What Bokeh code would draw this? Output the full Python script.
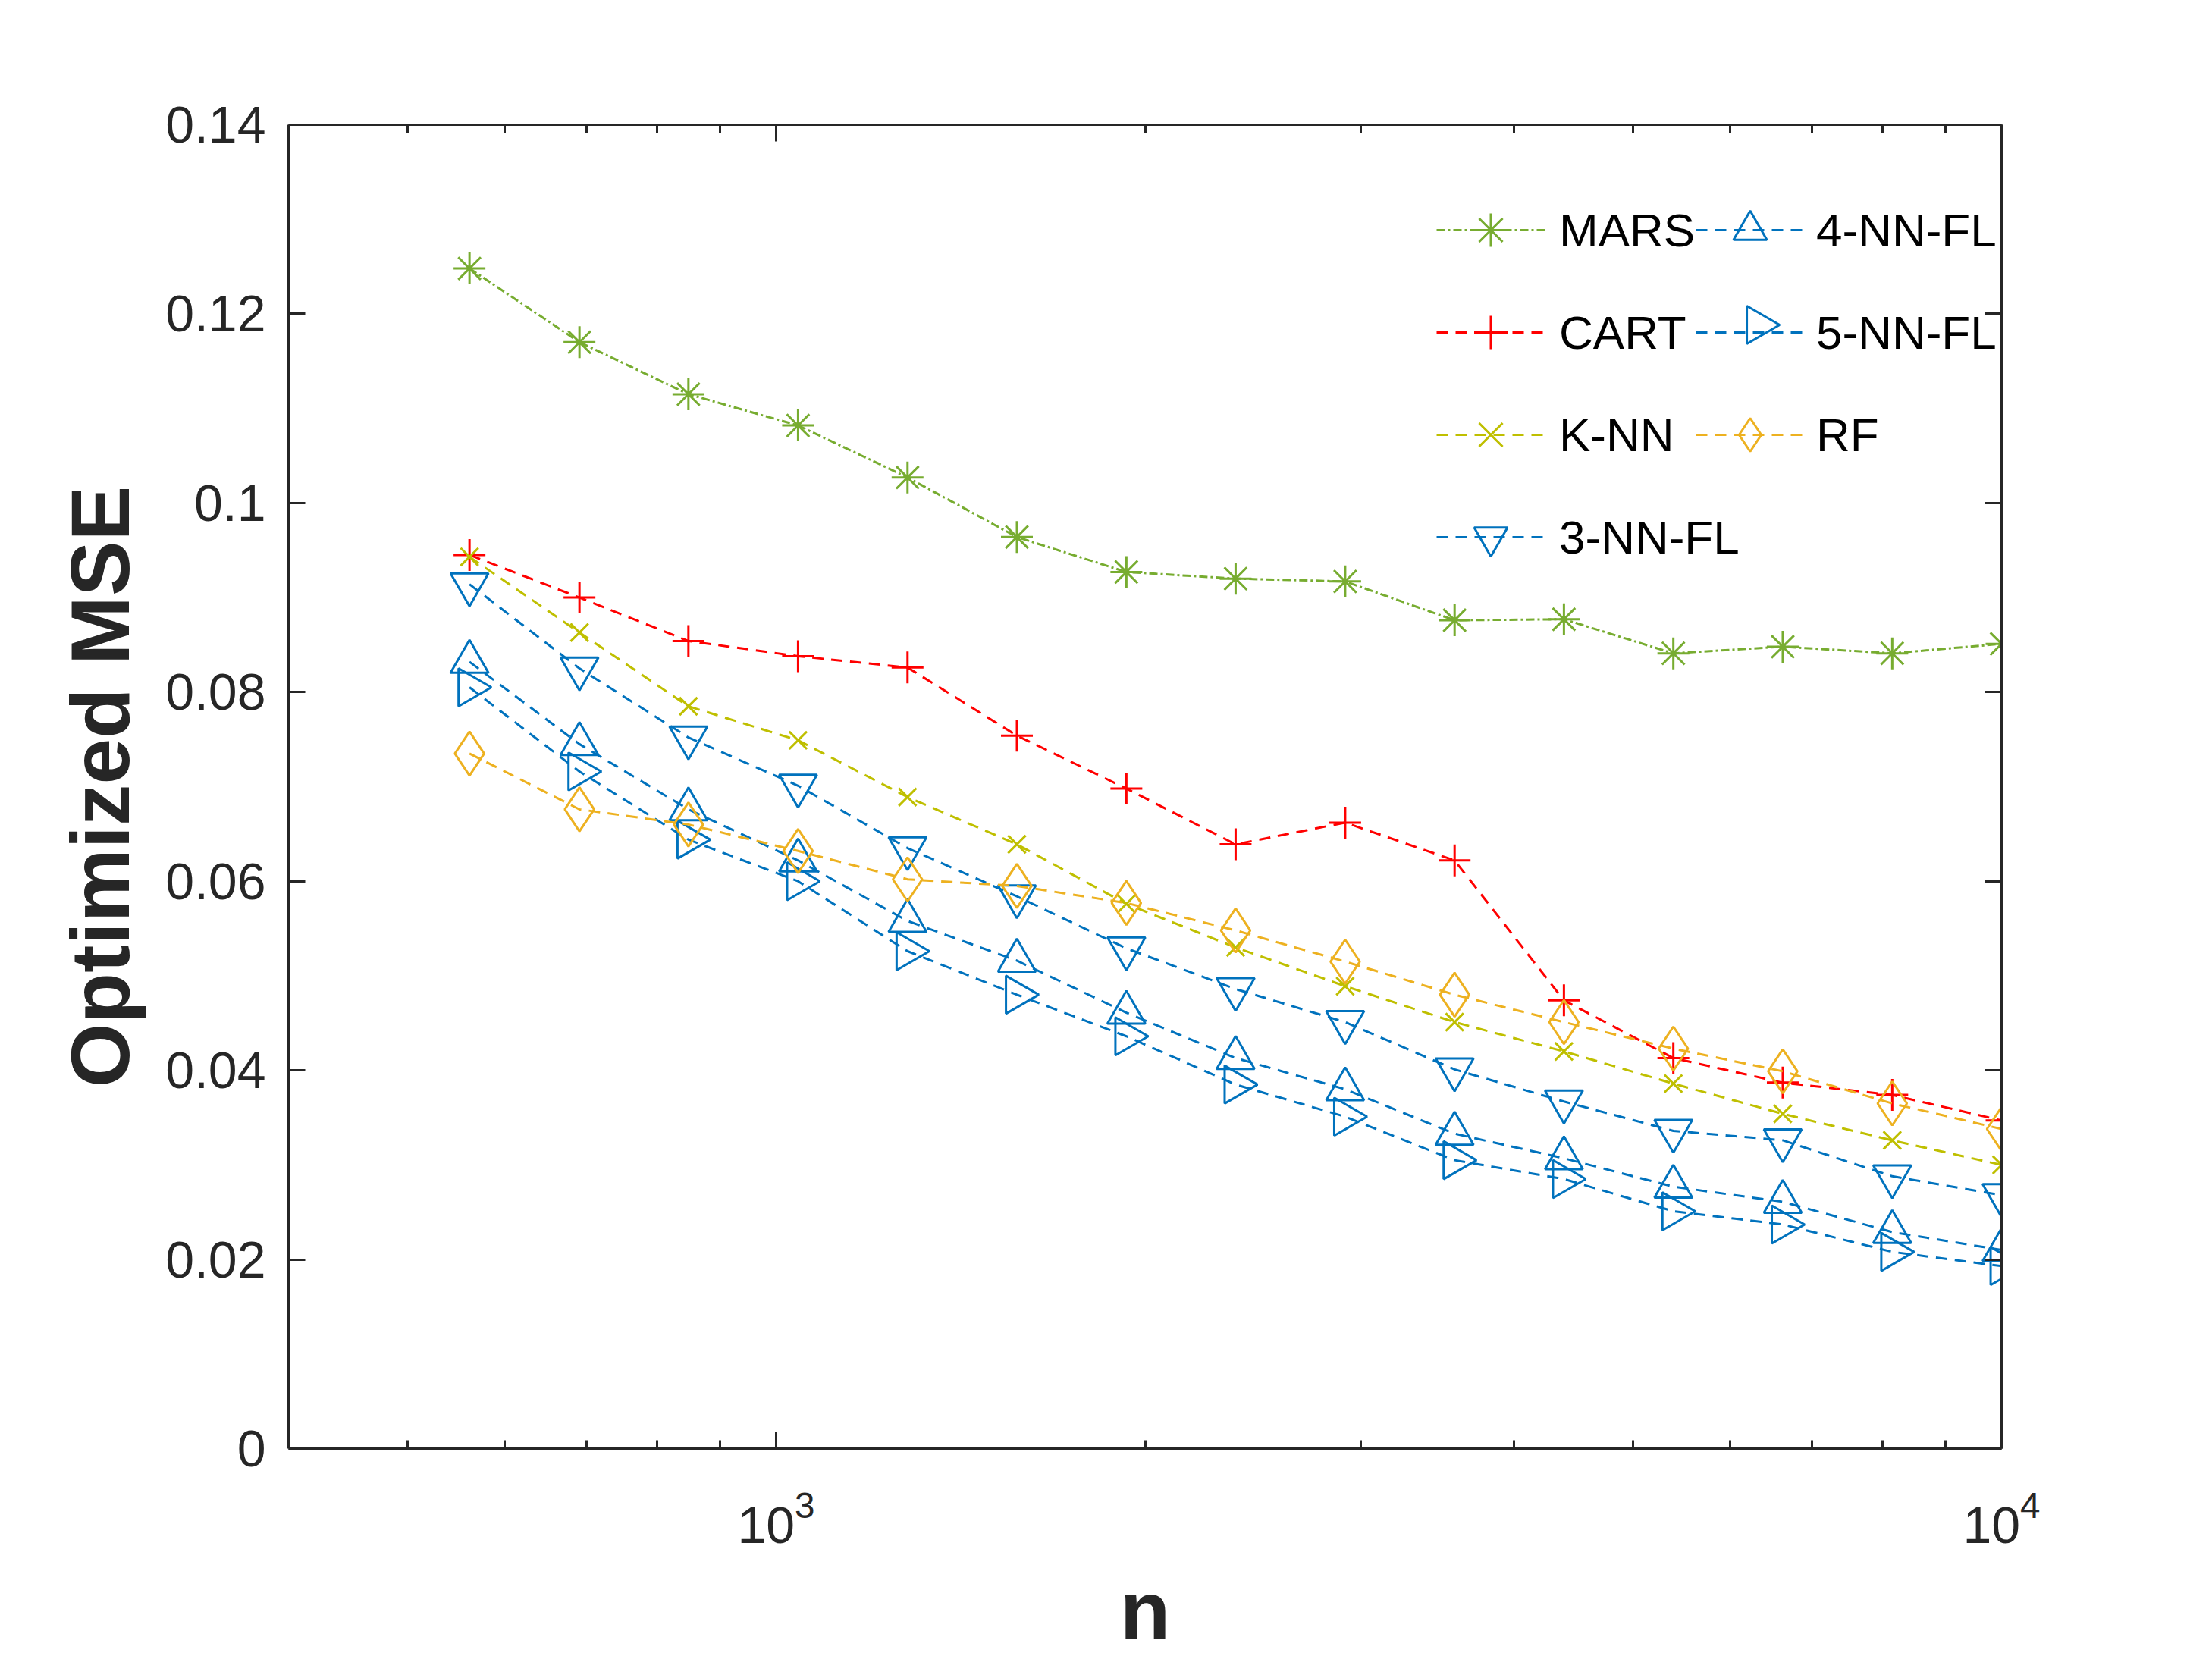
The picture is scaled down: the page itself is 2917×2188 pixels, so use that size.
import math
from bokeh.plotting import figure
from bokeh.models import (Range1d, LogAxis, LinearAxis, FixedTicker, Legend, LegendItem,
                          CustomJSTickFormatter, PolyAnnotation)
from bokeh.embed import file_html
from bokeh.resources import INLINE

# ---- data ----
n_values = [562, 691, 848, 1042, 1280, 1572, 1931, 2371, 2913, 3578, 4394, 5397, 6629, 8143, 10000]
mars = [0.1248, 0.1170, 0.1115, 0.1082, 0.1027, 0.0964, 0.0927, 0.0920, 0.0917, 0.0876, 0.0877, 0.0841, 0.0848, 0.0841, 0.0851]
cart = [0.0945, 0.0900, 0.0854, 0.0838, 0.0826, 0.0754, 0.0698, 0.0639, 0.0662, 0.0622, 0.0474, 0.0413, 0.0387, 0.0374, 0.0347]
knn = [0.0943, 0.0863, 0.0785, 0.0749, 0.0689, 0.0639, 0.0576, 0.0530, 0.0489, 0.0451, 0.0420, 0.0386, 0.0354, 0.0326, 0.0300]
nn3_fl = [0.0914, 0.0825, 0.0752, 0.0701, 0.0635, 0.0584, 0.0529, 0.0486, 0.0451, 0.0401, 0.0367, 0.0336, 0.0326, 0.0288, 0.0268]
nn4_fl = [0.0832, 0.0745, 0.0676, 0.0622, 0.0558, 0.0516, 0.0461, 0.0413, 0.0380, 0.0333, 0.0307, 0.0277, 0.0261, 0.0229, 0.0210]
nn5_fl = [0.0805, 0.0716, 0.0644, 0.0600, 0.0526, 0.0480, 0.0436, 0.0385, 0.0351, 0.0305, 0.0285, 0.0251, 0.0237, 0.0208, 0.0193]
rf = [0.0735, 0.0676, 0.0660, 0.0632, 0.0602, 0.0595, 0.0577, 0.0548, 0.0515, 0.0480, 0.0451, 0.0423, 0.0399, 0.0365, 0.0338]

y_ticks = [0, 0.02, 0.04, 0.06, 0.08, 0.10, 0.12, 0.14]
x_major_ticks = [1000, 10000]
x_minor_ticks = [500, 600, 700, 800, 900, 2000, 3000, 4000, 5000, 6000, 7000, 8000, 9000]

series = [
    # label, values, color, marker, angle, size, dash, width
    ("MARS", mars, "#77AC30", "asterisk", 0.0, 42, "11 4 3 4", 3),
    ("CART", cart, "#FF0000", "cross", 0.0, 42, "15 10", 3),
    ("K-NN", knn, "#BFBF00", "x", 0.0, 33, "15 10", 3),
    ("3-NN-FL", nn3_fl, "#0072BD", "inverted_triangle", 0.0, 50, "15 10", 3),
    ("4-NN-FL", nn4_fl, "#0072BD", "triangle", 0.0, 50, "15 10", 3),
    ("5-NN-FL", nn5_fl, "#0072BD", "triangle", -math.pi / 2, 50, "15 10", 3),
    ("RF", rf, "#EDB120", "diamond", 0.0, 58, "15 10", 3),
]

FONT = "Liberation Sans"
AX = "#262626"

W, H = 2900, 2188
FL, FT, FR, FB = 380, 164, 2639, 1910

p = figure(width=W, height=H, x_axis_type="log", output_backend="svg", toolbar_location=None,
           x_range=Range1d(400, 10000), y_range=Range1d(0, 0.14),
           min_border_left=FL, min_border_top=FT, min_border_right=W - FR, min_border_bottom=H - FB,
           background_fill_color="white", border_fill_color="white", outline_line_color=None)
p.grid.visible = False

def style_axis(ax, labels=True):
    ax.axis_line_color = AX
    ax.axis_line_width = 3
    ax.major_tick_line_color = AX
    ax.major_tick_line_width = 3
    ax.minor_tick_line_color = AX
    ax.minor_tick_line_width = 3
    ax.major_tick_in = 22
    ax.major_tick_out = 0
    ax.minor_tick_in = 11
    ax.minor_tick_out = 0
    ax.major_label_text_font = FONT
    ax.major_label_text_font_size = "68px"
    ax.major_label_text_color = AX
    if not labels:
        ax.major_label_text_color = None
        ax.major_label_text_font_size = "1px"

xt = FixedTicker(ticks=x_major_ticks, minor_ticks=x_minor_ticks)
yt = FixedTicker(ticks=y_ticks, minor_ticks=[])
yfmt = CustomJSTickFormatter(code="return tick.toFixed(2).replace(/0+$/, '').replace(/\\.$/, '');")

xa = p.xaxis[0]
xa.ticker = xt
style_axis(xa)
xa.major_label_standoff = 55
xa.axis_label = "n"
xa.axis_label_text_font = FONT
xa.axis_label_text_font_style = "bold"
xa.axis_label_text_font_size = "109px"
xa.axis_label_text_color = AX
xa.axis_label_standoff = 25

ya = p.yaxis[0]
ya.ticker = yt
ya.formatter = yfmt
style_axis(ya)
ya.major_label_standoff = 30
ya.axis_label = "Optimized MSE"
ya.axis_label_text_font = FONT
ya.axis_label_text_font_style = "bold"
ya.axis_label_text_font_size = "109px"
ya.axis_label_text_color = AX
ya.axis_label_standoff = 22

top = LogAxis(ticker=FixedTicker(ticks=x_major_ticks, minor_ticks=x_minor_ticks))
style_axis(top, labels=False)
p.add_layout(top, "above")
right = LinearAxis(ticker=FixedTicker(ticks=y_ticks, minor_ticks=[]))
style_axis(right, labels=False)
p.add_layout(right, "right")

items = {}
for label, vals, color, marker, angle, size, dash, lw in series:
    lr = p.line(n_values, vals, line_color=color, line_width=lw, line_dash=dash)
    sr = p.scatter(n_values, vals, marker=marker, angle=angle, size=size,
                   line_color=color, line_width=3, fill_color=None)
    if angle != 0.0:
        # Bokeh legends always draw markers unrotated; the rotated symbol is added below
        items[label] = LegendItem(label=label, renderers=[lr])
    else:
        items[label] = LegendItem(label=label, renderers=[lr, sr])

PAD, GW, GH, SP = 10, 143, 110, 25

def make_legend(labels, loc, standoff=19):
    return Legend(items=[items[k] for k in labels], location=loc,
                  glyph_width=GW, glyph_height=GH, label_height=GH, spacing=SP,
                  padding=PAD, margin=0, label_standoff=standoff,
                  label_text_font=FONT, label_text_font_size="62px", label_text_color="black",
                  background_fill_alpha=0, border_line_color=None)

leg1_loc = (1514, 1147)
leg2_loc = (1856, 1282)
leg2_labels = ["4-NN-FL", "5-NN-FL", "RF"]
p.add_layout(make_legend(["MARS", "CART", "K-NN", "3-NN-FL"], leg1_loc), "center")
p.add_layout(make_legend(leg2_labels, leg2_loc, standoff=16), "center")

# right-pointing legend symbol for 5-NN-FL (screen units, frame-relative)
n2 = len(leg2_labels)
leg2_h = 2 * PAD + n2 * GH + (n2 - 1) * SP
row = leg2_labels.index("5-NN-FL")
cy = leg2_loc[1] + leg2_h - PAD - GH / 2 - row * (GH + SP)
cx = leg2_loc[0] + PAD + GW / 2
r = 25
h = r * math.sqrt(3)
p.add_layout(PolyAnnotation(xs=[cx + 2 * h / 3, cx - h / 3, cx - h / 3],
                            ys=[cy, cy + r, cy - r],
                            xs_units="screen", ys_units="screen",
                            fill_color=None, fill_alpha=0, line_color="#0072BD", line_width=3,
                            line_alpha=1.0))

open("out.html", "w").write(file_html(p, INLINE))
